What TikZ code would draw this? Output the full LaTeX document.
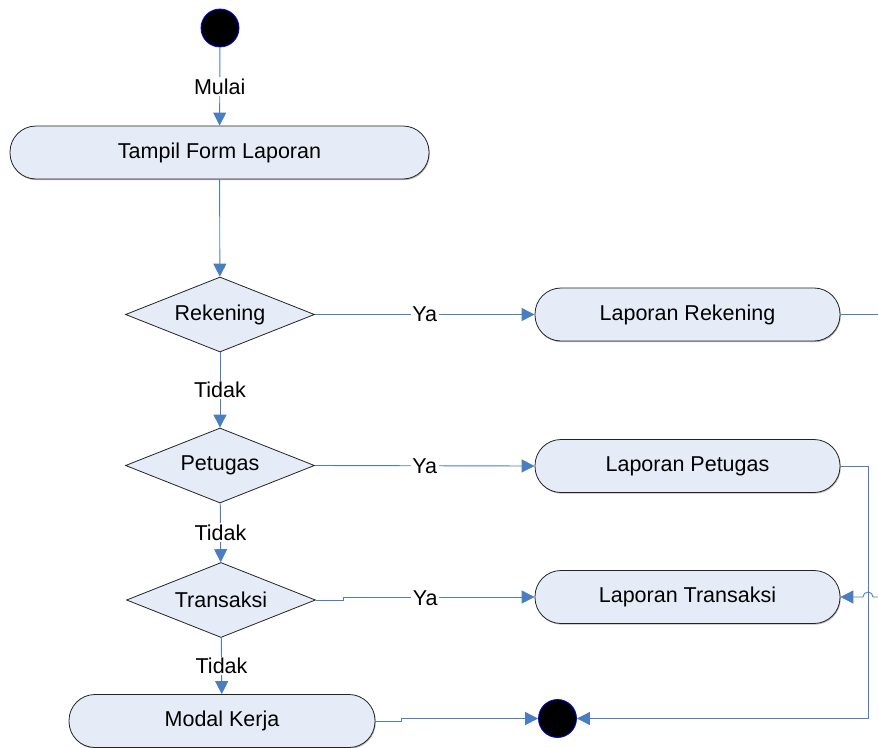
\documentclass[tikz,border=0pt]{standalone}
\usepackage{fontspec}
\setmainfont{Liberation Sans}
\usetikzlibrary{arrows.meta,shapes.geometric,shadows,calc}
\definecolor{boxfill}{RGB}{230,236,247}
\definecolor{flowblue}{RGB}{74,126,192}
\definecolor{edgegray}{RGB}{35,35,35}
\begin{document}
\begin{tikzpicture}[x=1pt,y=-1pt,
  every node/.style={font=\fontsize{21.5}{25}\selectfont, text=black},
  activity/.style={draw=edgegray, line width=0.8pt, fill=boxfill,
    rounded corners=26pt, minimum height=53pt, inner sep=0pt,
    drop shadow={shadow xshift=0.8pt, shadow yshift=-1.2pt, fill=black!45, opacity=0.6}},
  decision/.style={diamond, aspect=2.5, draw=edgegray, line width=0.8pt, fill=boxfill,
    minimum width=189pt, minimum height=75pt, inner sep=0pt},
  terminal/.style={circle, fill=black, draw=blue, line width=0.8pt,
    minimum size=38pt, inner sep=0pt},
  flow/.style={draw=flowblue, line width=0.9pt, -{Triangle[length=13pt,width=13pt]}},
  guard/.style={fill=white, inner sep=1.5pt}
]
\useasboundingbox (0,0) rectangle (878,747);
\clip (0,0) rectangle (878,747);

% activities, decisions and terminals
\node[terminal] (start) at (220,28) {};
\node[activity, minimum width=419pt] (form) at (219.5,152.5) {Tampil Form Laporan};
\node[decision] (rek) at (220,314.5) {Rekening};
\node[decision] (pet) at (220,465.5) {Petugas};
\node[decision] (tra) at (221,600) {Transaksi};
\node[activity, minimum width=306pt] (modal) at (222,721) {Modal Kerja};
\node[activity, minimum width=305pt] (lrek) at (687.5,314.5) {Laporan Rekening};
\node[activity, minimum width=305pt] (lpet) at (687.5,466) {Laporan Petugas};
\node[activity, minimum width=305pt] (ltra) at (687.5,597) {Laporan Transaksi};
\node[terminal] (stop) at (557.5,718.5) {};

% main column
\draw[flow] (start) -- node[guard] {Mulai} (form);
\draw[flow] (form) -- (rek);
\draw[flow] (rek) -- node[guard] {Tidak} (pet);
\draw[flow] (pet) -- node[guard] {Tidak} (tra);
\draw[flow] (tra) -- node[guard] {Tidak} (modal);

% "Ya" branches
\draw[flow] (rek.east) -- node[guard] {Ya} (lrek.west);
\draw[flow] (pet.east) -- node[guard] {Ya} (lpet.west);
\draw[flow] (tra.east) -- ++(28,0) |- (ltra.west);
\node[guard] (yatra) at ($(tra.east)!0.5!(ltra.west)$) {Ya};

% connectors to the final state
\draw[flow] (modal.east) -- ++(26,0) |- (stop.west);
\draw[flow] (lpet.east) -- ++(28,0) |- (stop.east);

% report connector leaving on the right, hopping over the return line
\coordinate (hop) at (873,597);
\draw[flow] (lrek.east) -- ++(46,0) |- (hop)
  arc[start angle=0, end angle=180, radius=5pt] -- (ltra.east);
\end{tikzpicture}
\end{document}
